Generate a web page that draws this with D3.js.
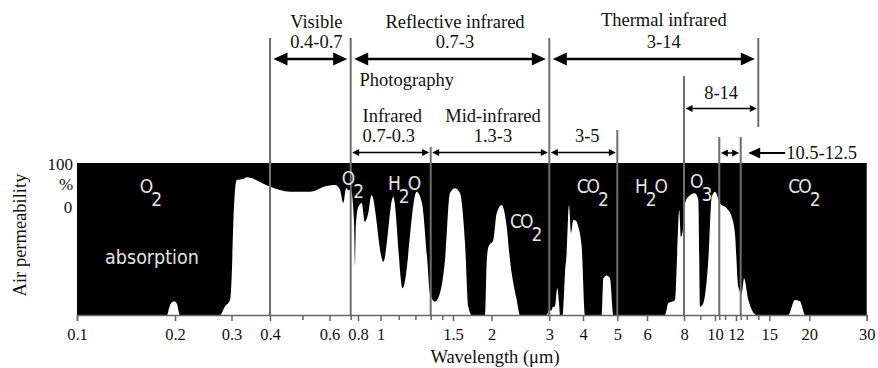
<!DOCTYPE html>
<html>
<head>
<meta charset="utf-8">
<script src="https://cdn.jsdelivr.net/npm/d3@7"></script>
<style>
  body { margin: 0; background: #fff; }
  svg { display: block; }
</style>
</head>
<body>
<svg width="878" height="368"></svg>
<script>
// atmospheric transmission (wavelength in um, transmission in %)
const wavelength = [
  0.1, 0.189, 0.192, 0.196, 0.199, 0.203, 0.207,
  0.276, 0.286, 0.297, 0.301, 0.304, 0.308, 0.312, 0.328, 0.336, 0.4, 0.459, 0.526, 0.589,
  0.625, 0.648, 0.663, 0.677, 0.69, 0.703, 0.745, 0.757, 0.77, 0.803, 0.83, 0.857, 0.886,
  0.915, 1.015, 1.069, 1.123, 1.208, 1.242, 1.277, 1.295, 1.336, 1.38, 1.425, 1.471, 1.522,
  1.58, 1.641, 1.682, 1.725,
  1.905, 1.929, 1.955, 2.025, 2.074, 2.148, 2.225, 2.277, 2.387, 2.443,
  2.95, 2.99, 3.05, 3.1, 3.15, 3.212, 3.26, 3.287,
  3.36, 3.381, 3.43, 3.48, 3.549, 3.611, 3.682, 3.768, 3.843, 3.955, 4.052,
  4.52, 4.565, 4.667, 4.768, 4.872,
  6.9, 7.08, 7.46, 7.59, 7.71, 7.81, 7.96, 8.06, 8.25, 8.66, 8.87, 8.98, 9.19, 9.53, 9.77,
  10, 10.56, 11.14, 11.59, 11.9, 12.24, 12.58, 12.77, 13.13, 13.86,
  17.19, 18.03, 18.7, 19.41, 30
];
const transmission = [
  0, 0, 5, 8.5, 9, 7, 0,
  0, 5.5, 10, 30, 60, 82, 88.8, 89.5, 90.6, 84.4, 81.1, 81.1, 84.9,
  85.5, 82.2, 73.7, 83.4, 82, 82, 60, 32.9, 60, 71.2, 73.7, 61.4, 67.1,
  78.9, 35.1, 77.8, 17.6, 81.1, 73.7, 36.2, 14.5, 8.75, 14.5, 36.2, 80.3, 83.4,
  80.3, 47.4, 5.5, 0,
  0, 34, 44.9, 49.3, 66.9, 72.4, 58.1, 36.2, 9.9, 0,
  0, 3, 3, 5.5, 5.5, 17.6, 8, 0,
  0, 5.5, 27.4, 40.8, 72.4, 53.9, 62.5, 62, 58.1, 44.9, 0,
  0, 24.1, 26, 24.1, 0,
  0, 7.7, 9.9, 40.8, 69.1, 51.5, 58.1, 73.5, 77.8, 80.1, 75.7, 5.5, 7.7, 36.2, 77.8,
  81.1, 73.5, 70.2, 64.7, 53.8, 18.6, 14.3, 24.1, 9.9, 0,
  0, 9.9, 9, 0, 0
];

const tickMajor = [0.1, 0.2, 0.3, 0.4, 0.6, 0.8, 1, 1.5, 2, 3, 4, 5, 6, 8, 10, 12, 15, 20, 30];
const tickMinor = [0.5, 0.7, 1.1, 1.2, 1.3, 1.4, 9, 10.5, 11, 12.5, 13, 14];
const yLabels = ['100', '%', '0'];

// spectral bands marked above the chart
const bands = [
  { from: 0.4, to: 0.7, text: ['Visible', '0.4-0.7'] },
  { from: 0.7, to: 3, text: ['Reflective infrared', '0.7-3'] },
  { from: 3, to: 14, text: ['Thermal infrared', '3-14'] },
  { from: 0.7, to: 1.3, text: ['Infrared', '0.7-0.3'] },
  { from: 1.3, to: 3, text: ['Mid-infrared', '1.3-3'] },
  { from: 3, to: 5, text: ['3-5'] },
  { from: 8, to: 14, text: ['8-14'] },
  { from: 10.5, to: 12.5, text: ['10.5-12.5'] }
];

// absorbing gases written on the chart: [main, subscript, tail]
const gases = [
  { at: 0.156, t: 80, parts: ['O', '2', ''] },
  { at: 0.656, t: 85.5, parts: ['O', '2', ''] },
  { at: 1.04, t: 82.2, parts: ['H', '2', 'O'] },
  { at: 2.277, t: 57.2, parts: ['CO', '2', ''] },
  { at: 3.79, t: 80.3, parts: ['CO', '2', ''] },
  { at: 5.57, t: 80.3, parts: ['H', '2', 'O'] },
  { at: 8.35, t: 83.6, parts: ['O', '3', ''] },
  { at: 17.19, t: 80.3, parts: ['CO', '2', ''] }
];

// the wavelength axis of the figure is only roughly logarithmic
const axisStops = [0.1, 0.2, 0.3, 0.4, 0.5, 0.6, 0.7, 0.8, 1, 1.3, 1.5, 2, 3, 4, 5, 6, 8, 10, 10.5, 12, 12.5, 14, 15, 20, 30];
const axisPixels = [77, 175, 231.5, 270, 302.5, 329.5, 350.7, 358, 380.5, 430.7, 453, 491.5, 549.3, 583, 617.3, 647, 684, 715, 719.3, 736, 740.7, 758.3, 769.3, 809.3, 866.7];

const SERIF = '"Liberation Serif", "Times New Roman", Times, "DejaVu Serif", serif';
const SANS = '"DejaVu Sans Condensed", "DejaVu Sans", sans-serif';

const svg = d3.select('svg');
const plotTop = 163, plotBottom = 315;

const x = d3.scaleLog().domain(axisStops).range(axisPixels);
const y = d3.scaleLinear().domain([0, 100]).range([plotBottom, plotTop]);

const data = wavelength.map((w, i) => [w, transmission[i]]);

const serifText = (sel, size) => sel
  .style('font-family', SERIF)
  .style('font-size', size + 'px')
  .attr('fill', '#111');

// black = absorbed, white = transmitted
svg.append('rect')
  .attr('x', x(0.1)).attr('y', plotTop)
  .attr('width', x(30) - x(0.1)).attr('height', plotBottom - plotTop)
  .attr('fill', '#000');

const area = d3.area()
  .x(d => x(d[0]))
  .y0(y(0))
  .y1(d => y(d[1]))
  .curve(d3.curveMonotoneX);

svg.append('path').datum(data).attr('d', area).attr('fill', '#fff');

// band boundary lines
const guides = [
  { at: 0.4, y1: 38, y2: plotBottom }, { at: 0.7, y1: 38, y2: plotBottom },
  { at: 1.3, y1: 147, y2: plotBottom }, { at: 3, y1: 38, y2: plotBottom },
  { at: 5, y1: 130, y2: plotBottom }, { at: 8, y1: 76, y2: plotBottom },
  { at: 10.5, y1: 137, y2: plotBottom }, { at: 12.5, y1: 137, y2: plotBottom },
  { at: 14, y1: 38, y2: 127 }
];
svg.append('g').selectAll('line').data(guides).join('line')
  .attr('x1', d => x(d.at)).attr('x2', d => x(d.at))
  .attr('y1', d => d.y1).attr('y2', d => d.y2)
  .attr('stroke', '#6e6e6e').attr('stroke-width', 2);

// gas labels
const gasG = svg.append('g');
gases.forEach(d => {
  const t = gasG.append('text')
    .attr('x', x(d.at)).attr('y', y(d.t))
    .attr('fill', '#e4e4e4')
    .style('font-family', SANS).style('font-stretch', 'condensed')
    .style('font-size', '19px').style('letter-spacing', '-2px');
  t.append('tspan').text(d.parts[0]);
  t.append('tspan').attr('dy', 13).text(d.parts[1]);
  if (d.parts[2]) t.append('tspan').attr('dy', -13).text(d.parts[2]);
});
svg.append('text')
  .attr('x', x(0.122)).attr('y', y(33.6))
  .attr('fill', '#e4e4e4')
  .style('font-family', SANS)
  .style('font-size', '19.5px')
  .text('absorption');

// x axis
const axisG = svg.append('g').attr('transform', `translate(0,${plotBottom})`);
axisG.call(d3.axisBottom(x).tickValues(tickMajor).tickFormat(d => String(d)).tickSize(6).tickPadding(7));
serifText(axisG.selectAll('text'), 16.5);
axisG.selectAll('line, path').attr('stroke', '#666').attr('stroke-width', 1.5);
const minorG = svg.append('g').attr('transform', `translate(0,${plotBottom})`);
minorG.call(d3.axisBottom(x).tickValues(tickMinor).tickFormat('').tickSize(5));
minorG.select('.domain').remove();
minorG.selectAll('line').attr('stroke', '#666').attr('stroke-width', 1.5);

// axis titles
serifText(svg.append('text'), 18.5)
  .attr('x', 495).attr('y', 363).attr('text-anchor', 'middle')
  .text('Wavelength (μm)');
serifText(svg.append('text'), 18.5)
  .attr('transform', 'translate(26,235) rotate(-90)').attr('text-anchor', 'middle')
  .text('Air permeability');
serifText(svg.append('g').selectAll('text').data(yLabels).join('text'), 17)
  .attr('x', (d, i) => [73, 66, 68][i])
  .attr('y', (d, i) => [170, 190, 213][i])
  .attr('text-anchor', (d, i) => i === 0 ? 'end' : 'middle')
  .text(d => d);

// band arrows and labels
const head = (g, tip, yy, dir, len, half) => g.append('path')
  .attr('d', `M${tip},${yy}L${tip - dir * len},${yy - half}L${tip - dir * len},${yy + half}Z`)
  .attr('fill', '#000');

const bandLayout = [
  { ay: 59, big: true, ty: [28, 48], dx: 6 },
  { ay: 59, big: true, ty: [28, 48], dx: 5 },
  { ay: 59, big: true, ty: [26, 48], dx: 10 },
  { ay: 152.5, big: false, ty: [121.5, 141.5], left: 362.5 },
  { ay: 152.5, big: false, ty: [121.5, 141.5], dx: 3 },
  { ay: 152.5, big: false, ty: [141.5], dx: 4 },
  { ay: 108.5, big: false, ty: [99], dx: 0 },
  { ay: 153, big: false, ty: [], dx: 0 }
];

const bandG = svg.append('g');
bands.forEach((b, i) => {
  const L = bandLayout[i];
  const x1 = x(b.from), x2 = x(b.to);
  const gap = L.big ? 3.5 : 1.5, len = L.big ? 14 : 7, half = L.big ? 6.5 : 3.5;
  bandG.append('line')
    .attr('x1', x1 + gap + len - 1).attr('x2', x2 - gap - len + 1)
    .attr('y1', L.ay).attr('y2', L.ay)
    .attr('stroke', '#000').attr('stroke-width', L.big ? 2.5 : 1.5);
  head(bandG, x1 + gap, L.ay, -1, len, half);
  head(bandG, x2 - gap, L.ay, 1, len, half);
  L.ty.forEach((ty, k) => {
    serifText(bandG.append('text'), 18.5)
      .attr('x', L.left !== undefined ? L.left : (x1 + x2) / 2 + L.dx)
      .attr('y', ty)
      .attr('text-anchor', L.left !== undefined ? 'start' : 'middle')
      .text(b.text[k]);
  });
});

// pointer for the 10.5-12.5 window
const last = bands[bands.length - 1];
const px = x(last.to) + 7.5;
bandG.append('line').attr('x1', px + 10).attr('x2', px + 37).attr('y1', 153).attr('y2', 153)
  .attr('stroke', '#000').attr('stroke-width', 2);
head(bandG, px, 153, -1, 12, 5.5);
serifText(bandG.append('text'), 18.5)
  .attr('x', px + 38).attr('y', 159)
  .text(last.text[0]);

serifText(svg.append('text'), 18.5)
  .attr('x', 359.5).attr('y', 86)
  .text('Photography');
</script>
</body>
</html>
